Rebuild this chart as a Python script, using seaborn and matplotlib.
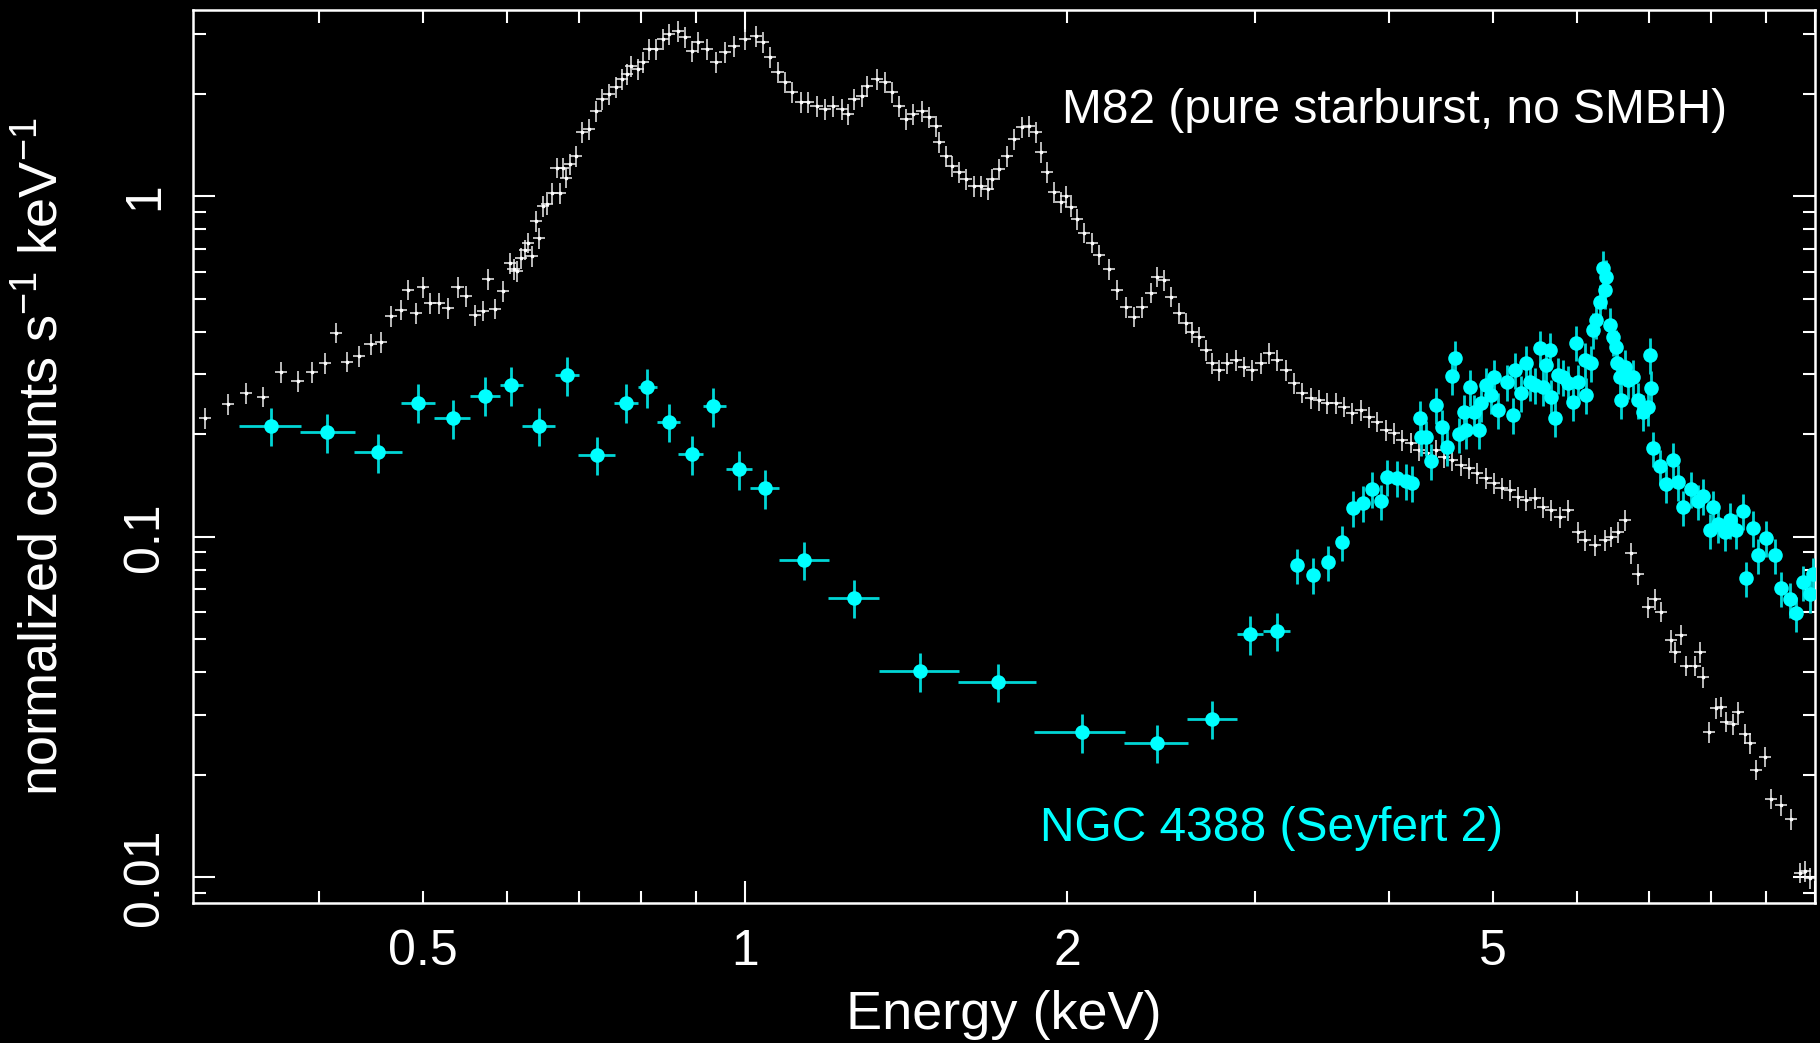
"""
X-ray spectra: M82 (starburst) vs NGC 4388 (Seyfert 2).
"""

import pandas as pd
import matplotlib
matplotlib.use("Agg")
import matplotlib.pyplot as plt
import seaborn as sns
from matplotlib.ticker import FixedLocator, FuncFormatter, LogLocator, NullFormatter

# M82 spectrum (keV, normalized counts s^-1 keV^-1)
m82_energy = [
    0.313, 0.329, 0.342, 0.355, 0.369, 0.382, 0.394, 0.405, 0.415, 0.425,
    0.436, 0.447, 0.457, 0.467, 0.477, 0.485, 0.493, 0.500, 0.508, 0.518,
    0.528, 0.539, 0.549, 0.560, 0.569, 0.576, 0.584, 0.595, 0.603, 0.608,
    0.612, 0.618, 0.623, 0.627, 0.632, 0.638, 0.642, 0.648, 0.653, 0.660,
    0.667, 0.672, 0.676, 0.681, 0.686, 0.696,
    0.705, 0.715, 0.726, 0.736, 0.747, 0.758, 0.768, 0.776, 0.783, 0.795,
    0.803, 0.814, 0.826, 0.839, 0.849, 0.866, 0.879, 0.892, 0.904, 0.922,
    0.940, 0.958, 0.977, 1.000, 1.024, 1.039, 1.055, 1.073, 1.090, 1.106,
    1.128, 1.145, 1.167, 1.188, 1.208, 1.232, 1.248, 1.266, 1.286, 1.302,
    1.328, 1.351, 1.374, 1.395, 1.416, 1.435, 1.463, 1.488, 1.510, 1.520,
    1.543, 1.563, 1.587, 1.611, 1.639, 1.664, 1.686, 1.703, 1.729, 1.759,
    1.786, 1.816, 1.845, 1.873, 1.893, 1.918, 1.946, 1.976, 1.997, 2.018,
    2.045, 2.076, 2.112, 2.144,
    2.191, 2.228, 2.272, 2.311, 2.351, 2.397, 2.428, 2.465, 2.502, 2.546,
    2.585, 2.618, 2.658, 2.698, 2.733, 2.774, 2.822, 2.877, 2.927, 2.978,
    3.036, 3.088, 3.142, 3.203, 3.259, 3.315, 3.380, 3.439, 3.499, 3.567,
    3.629, 3.692, 3.764, 3.828, 3.895, 3.971, 4.040, 4.110, 4.191, 4.263,
    4.337, 4.422, 4.498, 4.576, 4.666, 4.747, 4.829, 4.923, 5.008, 5.095,
    5.194, 5.284, 5.376, 5.481, 5.576, 5.672, 5.783, 5.883, 6.011, 6.102,
    6.234, 6.369, 6.452, 6.549, 6.649, 6.735, 6.837, 6.985, 7.091, 7.183,
    7.340, 7.403, 7.499, 7.580, 7.728, 7.811, 7.862, 7.964, 8.085, 8.171,
    8.260, 8.385, 8.476, 8.604, 8.698, 8.811, 8.983, 9.099, 9.297, 9.498,
    9.683, 9.788, 9.893,
]
m82_counts = [
    0.223, 0.245, 0.264, 0.258, 0.304, 0.287, 0.304, 0.324, 0.398, 0.327,
    0.339, 0.368, 0.373, 0.444, 0.465, 0.532, 0.454, 0.542, 0.486, 0.486,
    0.470, 0.541, 0.509, 0.449, 0.462, 0.572, 0.468, 0.526, 0.638, 0.610,
    0.603, 0.660, 0.698, 0.731, 0.667, 0.846, 0.756, 0.936, 0.947, 1.025,
    1.215, 1.025, 1.215, 1.135, 1.243, 1.314,
    1.543, 1.575, 1.780, 1.931, 1.997, 2.095, 2.211, 2.288, 2.415, 2.366,
    2.481, 2.710, 2.710, 2.901, 3.000, 3.062, 2.940, 2.673, 2.842, 2.710,
    2.481, 2.656, 2.766, 2.901, 2.960, 2.842, 2.567, 2.318, 2.167, 2.025,
    1.891, 1.891, 1.841, 1.804, 1.841, 1.804, 1.744, 1.931, 1.970, 2.109,
    2.211, 2.167, 2.025, 1.841, 1.686, 1.744, 1.780, 1.709, 1.608, 1.442,
    1.311, 1.226, 1.177, 1.122, 1.070, 1.070, 1.049, 1.122, 1.201, 1.311,
    1.472, 1.597, 1.608, 1.543, 1.348, 1.177, 1.027, 0.960, 1.000, 0.934,
    0.856, 0.783, 0.732, 0.675,
    0.610, 0.532, 0.474, 0.443, 0.474, 0.522, 0.581, 0.569, 0.508, 0.455,
    0.425, 0.400, 0.387, 0.354, 0.324, 0.309, 0.324, 0.331, 0.316, 0.309,
    0.324, 0.347, 0.331, 0.309, 0.283, 0.265, 0.256, 0.252, 0.247, 0.247,
    0.241, 0.231, 0.236, 0.225, 0.218, 0.206, 0.202, 0.192, 0.189, 0.180,
    0.176, 0.180, 0.171, 0.168, 0.162, 0.159, 0.154, 0.149, 0.144, 0.139,
    0.137, 0.131, 0.128, 0.130, 0.122, 0.120, 0.114, 0.120, 0.103, 0.0976,
    0.0944, 0.0976, 0.100, 0.103, 0.112, 0.0894, 0.0775, 0.0620, 0.0655, 0.0603,
    0.0496, 0.0457, 0.0516, 0.0418, 0.0418, 0.0457, 0.0386, 0.0267, 0.0313, 0.0317,
    0.0286, 0.0282, 0.0306, 0.0264, 0.0248, 0.0207, 0.0226, 0.0170, 0.0163, 0.0148,
    0.0103, 0.0104, 0.00993,
]

# NGC 4388, wide bins below ~3.2 keV
ngc_bin_energy = [0.361, 0.407, 0.454, 0.495, 0.534, 0.572, 0.605, 0.642, 0.682,
                  0.728, 0.774, 0.811, 0.849, 0.892, 0.934, 0.987, 1.045, 1.137,
                  1.265, 1.457, 1.726, 2.067, 2.430, 2.735, 2.965, 3.142]
ngc_bin_lo = [0.337, 0.384, 0.431, 0.477, 0.512, 0.554, 0.590, 0.619, 0.665,
              0.699, 0.754, 0.795, 0.828, 0.866, 0.914, 0.960, 1.012, 1.076,
              1.197, 1.334, 1.582, 1.864, 2.262, 2.589, 2.884, 3.049]
ngc_bin_hi = [0.385, 0.432, 0.478, 0.514, 0.554, 0.590, 0.620, 0.665, 0.700,
              0.756, 0.795, 0.828, 0.869, 0.914, 0.960, 1.015, 1.076, 1.198,
              1.336, 1.585, 1.871, 2.267, 2.597, 2.884, 3.049, 3.231]
ngc_bin_counts = [0.212, 0.203, 0.177, 0.248, 0.223, 0.260, 0.279, 0.212, 0.298,
                  0.174, 0.248, 0.275, 0.218, 0.175, 0.242, 0.158, 0.139, 0.0857,
                  0.0662, 0.0403, 0.0375, 0.0266, 0.0248, 0.0292, 0.0517, 0.0530]

# NGC 4388, fine bins above ~3.2 keV
ngc_energy = [
    3.280, 3.395, 3.510, 3.613, 3.705, 3.785, 3.854, 3.929, 3.980, 4.066,
    4.146, 4.200, 4.282, 4.273, 4.327, 4.374, 4.422, 4.478, 4.527, 4.576,
    4.605, 4.645, 4.695, 4.725, 4.766, 4.797, 4.849, 4.880, 4.923, 4.976,
    5.008, 5.062, 5.150, 5.228, 5.250, 5.318, 5.365, 5.422, 5.481, 5.540,
    5.576, 5.612, 5.660, 5.672, 5.721, 5.758, 5.820, 5.883, 5.947, 5.985,
    6.011, 6.102, 6.115, 6.180, 6.207, 6.247, 6.301, 6.342, 6.369, 6.383,
    6.438, 6.480, 6.522, 6.536, 6.578, 6.592, 6.649, 6.692, 6.764, 6.837,
    6.912, 6.985, 7.017, 7.032, 7.062, 7.169, 7.261, 7.371, 7.451, 7.532,
    7.662, 7.779, 7.862, 7.982, 8.033, 8.121, 8.241, 8.329, 8.438, 8.566,
    8.622, 8.754, 8.848, 9.001, 9.178, 9.297, 9.478, 9.601, 9.746, 9.893,
    9.957,
]
ngc_counts = [
    0.0824, 0.0773, 0.0841, 0.0963, 0.1215, 0.1257, 0.138, 0.127, 0.150, 0.149,
    0.146, 0.144, 0.196, 0.223, 0.196, 0.167, 0.244, 0.210, 0.183, 0.297,
    0.336, 0.200, 0.233, 0.206, 0.276, 0.233, 0.206, 0.247, 0.279, 0.261,
    0.295, 0.236, 0.285, 0.228, 0.309, 0.265, 0.324, 0.285, 0.279, 0.359,
    0.276, 0.320, 0.354, 0.258, 0.223, 0.299, 0.295, 0.283, 0.249, 0.372,
    0.285, 0.331, 0.261, 0.324, 0.406, 0.434, 0.491, 0.618, 0.532, 0.581,
    0.420, 0.387, 0.362, 0.324, 0.295, 0.252, 0.316, 0.289, 0.295, 0.252,
    0.233, 0.241, 0.342, 0.274, 0.182, 0.161, 0.143, 0.168, 0.145, 0.122,
    0.138, 0.127, 0.132, 0.1045, 0.122, 0.109, 0.103, 0.112, 0.1045, 0.119,
    0.0754, 0.106, 0.0882, 0.0990, 0.0882, 0.0705, 0.0655, 0.0595, 0.0735, 0.0677,
    0.0775,
]

x_tick_values = [0.5, 1, 2, 5]
x_tick_labels = ["0.5", "1", "2", "5"]
y_tick_values = [0.01, 0.1, 1]
y_tick_labels = ["0.01", "0.1", "1"]

WHITE = "#eeeeee"
CYAN = "#00ffff"
CYAN_BAR = "#00d6d6"

sns.set_theme(style="dark", rc={
    "figure.facecolor": "black", "axes.facecolor": "black",
    "axes.edgecolor": "white", "axes.linewidth": 1.8, "axes.grid": False,
    "text.color": "white", "axes.labelcolor": "white",
    "xtick.color": "white", "ytick.color": "white",
    "mathtext.fontset": "custom", "mathtext.rm": "Liberation Sans",
    "mathtext.it": "Liberation Sans", "mathtext.default": "regular",
})
plt.rcParams["font.family"] = ["Liberation Sans", "DejaVu Sans"]

m82 = pd.DataFrame({"energy": m82_energy, "counts": m82_counts})
ngc_bins = pd.DataFrame({"energy": ngc_bin_energy, "lo": ngc_bin_lo,
                         "hi": ngc_bin_hi, "counts": ngc_bin_counts})
ngc = pd.DataFrame({"energy": ngc_energy, "counts": ngc_counts})

fig = plt.figure(figsize=(18.2, 10.43), dpi=100)
ax = fig.add_axes([0.106, 0.1342, 0.8912, 0.8562])
ax.set_xscale("log")
ax.set_yscale("log")

# M82: small white crosses
ax.errorbar(m82["energy"], m82["counts"], xerr=m82["energy"] * 0.013,
            yerr=m82["counts"] * 0.07, fmt="none", ecolor=WHITE,
            elinewidth=1.1, zorder=2)
sns.scatterplot(data=m82, x="energy", y="counts", color="white", s=7,
                linewidth=0, legend=False, ax=ax, zorder=3)

# NGC 4388: cyan dots with error bars
ax.errorbar(ngc_bins["energy"], ngc_bins["counts"],
            xerr=[ngc_bins["energy"] - ngc_bins["lo"], ngc_bins["hi"] - ngc_bins["energy"]],
            yerr=ngc_bins["counts"] * 0.13, fmt="none", ecolor=CYAN_BAR,
            elinewidth=2.0, zorder=4)
ax.errorbar(ngc["energy"], ngc["counts"], xerr=ngc["energy"] * 0.008,
            yerr=ngc["counts"] * 0.12, fmt="none", ecolor=CYAN_BAR,
            elinewidth=2.0, zorder=4)
sns.scatterplot(data=pd.concat([ngc_bins[["energy", "counts"]], ngc]),
                x="energy", y="counts", color=CYAN, s=110, linewidth=0,
                legend=False, ax=ax, zorder=5)

ax.set_xlim(0.305, 10.0)
ax.set_ylim(0.00839, 3.53)

# ticks
x_lookup = dict(zip(x_tick_values, x_tick_labels))
y_lookup = dict(zip(y_tick_values, y_tick_labels))
ax.xaxis.set_major_locator(FixedLocator([1, 10]))
ax.xaxis.set_minor_locator(FixedLocator([0.4, 0.5, 0.6, 0.7, 0.8, 0.9,
                                         2, 3, 4, 5, 6, 7, 8, 9]))
xfmt = FuncFormatter(lambda v, pos: x_lookup.get(round(v, 3), ""))
ax.xaxis.set_major_formatter(xfmt)
ax.xaxis.set_minor_formatter(xfmt)
ax.yaxis.set_major_locator(LogLocator(base=10))
ax.yaxis.set_minor_locator(LogLocator(base=10, subs=range(2, 10)))
ax.yaxis.set_major_formatter(FuncFormatter(lambda v, pos: y_lookup.get(round(v, 4), "")))
ax.yaxis.set_minor_formatter(NullFormatter())

ax.tick_params(which="both", direction="in", top=True, right=True,
               bottom=True, left=True, colors="white", width=1.5,
               labelsize=36)
ax.tick_params(which="major", length=16)
ax.tick_params(which="minor", length=9)
ax.tick_params(axis="x", which="both", pad=19)
ax.tick_params(axis="y", which="major", pad=18, labelrotation=90)
for lab in ax.get_yticklabels():
    lab.set_va("center")

ax.set_xlabel("Energy (keV)", fontsize=39, va="center")
ax.xaxis.set_label_coords(0.5, -0.125)
ax.set_ylabel("normalized counts s$^{-1}$ keV$^{-1}$", fontsize=39, va="center")
ax.yaxis.set_label_coords(-0.0925, 0.5)

ax.text(0.536, 0.888, "M82 (pure starburst, no SMBH)", transform=ax.transAxes,
        fontsize=34.5, color="white", va="center", ha="left")
ax.text(0.522, 0.083, "NGC 4388 (Seyfert 2)", transform=ax.transAxes,
        fontsize=34.5, color=CYAN, va="center", ha="left")

for side in ax.spines.values():
    side.set_color("white")
    side.set_linewidth(1.8)

fig.savefig("out.png", dpi=100, facecolor="black")
plt.close(fig)
